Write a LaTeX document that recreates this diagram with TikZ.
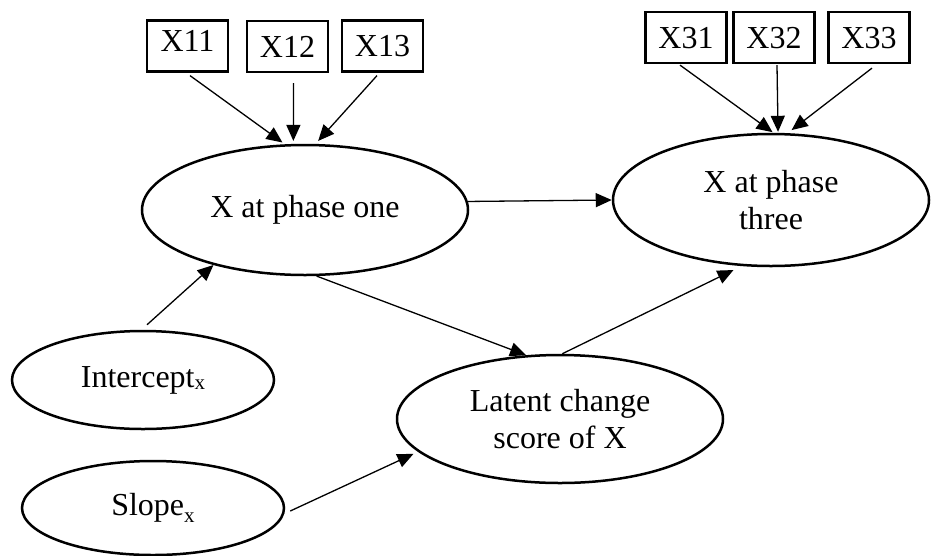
\documentclass[tikz,border=0pt]{standalone}
\usepackage{fontspec}
\setmainfont{Liberation Serif}
\usetikzlibrary{shapes.geometric,arrows.meta,calc}
\begin{document}
\begin{tikzpicture}[x=1pt,y=-1pt,
  lbl/.style={font=\fontsize{32}{37}\selectfont},
  obsbox/.style={draw,line width=2.2pt,rectangle,minimum width=81pt,minimum height=51pt,inner sep=0pt,lbl,text height=21pt,text depth=0pt},
  latent/.style={draw,line width=2.5pt,ellipse,inner sep=0pt,lbl,align=center},
  arr/.style={line width=1.3pt,-{Triangle[length=16pt,width=14pt]}}]
\useasboundingbox (0,0) rectangle (931,555);
\fill[white] (0,0) rectangle (931,555);
% indicator boxes
\node[obsbox] (x11) at (187.5,46) {\raisebox{5pt}{X11}};
\node[obsbox] (x12) at (287.5,46.5) {X12};
\node[obsbox] (x13) at (382.5,46) {X13};
\node[obsbox] (x31) at (686,37.5) {X31};
\node[obsbox] (x32) at (774,37.5) {X32};
\node[obsbox] (x33) at (869,37.5) {X33};
% latent variables
\node[latent,minimum width=326pt,minimum height=130pt] (ph1) at (305,210) {X at phase one};
\node[latent,minimum width=316pt,minimum height=132pt] (ph3) at (771,200) {\raisebox{-3pt}{X at phase}\\\raisebox{-3pt}{three}};
\node[latent,minimum width=262pt,minimum height=98pt] (int) at (143,380) {Intercept\raisebox{-2pt}{\fontsize{21}{21}\selectfont x}};
\node[latent,minimum width=262pt,minimum height=94pt] (slope) at (153,508) {Slope\raisebox{-7pt}{\fontsize{21}{21}\selectfont x}};
\node[latent,minimum width=326pt,minimum height=128pt] (lat) at (560,419) {Latent change\\score of X};
% connectors
\draw[arr,shorten >=3pt] ($(x11.south)+(2.5,3)$) -- (ph1.107.7);
\draw[arr,shorten >=3pt] ($(x12.south)+(6,10)$) -- (ph1.100);
\draw[arr,shorten >=4pt] ($(x13.south)+(-5.5,3)$) -- (ph1.81.2);
\draw[arr,shorten >=1pt] ($(x31.south)+(-6,1)$) -- (ph3.88.3);
\draw[arr,shorten >=1pt] ($(x32.south)+(3,1)$) -- (ph3.84.8);
\draw[arr,shorten >=5pt] ($(x33.south)+(3,4)$) -- (ph3.76.3);
\draw[arr] (ph1.3.6) -- (ph3.west);
\draw[arr] ($(int.north)+(4,-5)$) -- (ph1.211);
\draw[arr] (ph1.280.5) -- (lat.118.4);
\draw[arr,shorten >=9pt] (lat.88) -- (ph3.246);
\draw[arr,shorten >=5pt] ($(slope.east)+(5,3)$) -- (lat.193.4);
\end{tikzpicture}
\end{document}
